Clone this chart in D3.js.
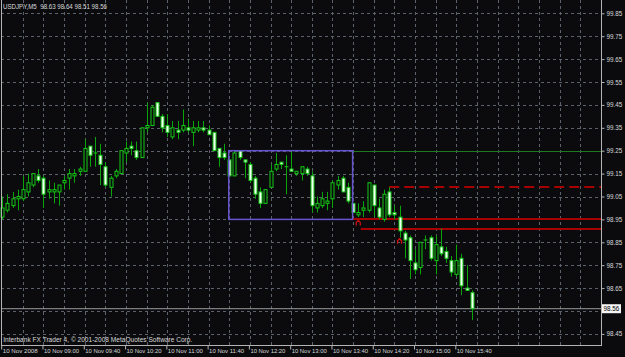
<!DOCTYPE html>
<html><head><meta charset="utf-8">
<script src="https://cdn.jsdelivr.net/npm/d3@7"></script>
<style>html,body{margin:0;padding:0;background:#0b0b0e;overflow:hidden}</style>
</head><body><svg id="c" width="625" height="357"></svg>
<script>
const symbolTitle = "USDJPY,M5  98.63 98.64 98.51 98.56";
const copyright = "Interbank FX Trader 4, \u00A9 2001-2008 MetaQuotes Software Corp.";

const open  = [98.96,98.99,99.01,99.04,99.04,99.07,99.10,99.14,99.13,99.07,99.07,99.07,99.11,99.13,99.14,99.16,99.16,99.27,99.24,99.23,99.18,99.09,99.14,99.15,99.24,99.27,99.25,99.22,99.35,99.36,99.46,99.40,99.36,99.31,99.34,99.34,99.35,99.33,99.34,99.35,99.34,99.33,99.26,99.24,99.21,99.14,99.25,99.21,99.19,99.13,99.07,99.02,99.09,99.17,99.20,99.18,99.17,99.15,99.15,99.17,99.14,99.00,99.01,99.02,99.04,99.10,99.13,99.09,99.02,98.97,98.99,98.99,99.10,99.00,98.95,99.07,98.98,98.96,98.89,98.87,98.76,98.74,98.86,98.87,98.77,98.83,98.81,98.77,98.71,98.78,98.65,98.63];
const high  = [99.05,99.06,99.07,99.08,99.14,99.15,99.15,99.17,99.14,99.12,99.11,99.10,99.14,99.17,99.17,99.18,99.30,99.27,99.31,99.28,99.20,99.14,99.17,99.25,99.29,99.29,99.29,99.35,99.46,99.45,99.46,99.41,99.41,99.38,99.38,99.43,99.39,99.38,99.38,99.38,99.36,99.33,99.26,99.28,99.21,99.25,99.25,99.21,99.20,99.14,99.09,99.08,99.19,99.24,99.20,99.23,99.25,99.16,99.18,99.18,99.16,99.05,99.07,99.07,99.12,99.14,99.14,99.11,99.02,99.02,99.03,99.11,99.10,99.04,99.08,99.09,99.01,99.01,98.90,98.88,98.82,98.85,98.88,98.88,98.88,98.91,98.83,98.79,98.84,98.80,98.75,98.64];
const low   = [98.95,98.98,99.00,98.99,99.03,99.05,99.09,99.11,99.00,99.04,99.02,99.01,99.08,99.08,99.11,99.14,99.16,99.18,99.18,99.10,99.09,99.05,99.13,99.15,99.20,99.23,99.21,99.22,99.33,99.36,99.40,99.33,99.31,99.30,99.30,99.33,99.33,99.27,99.33,99.33,99.32,99.25,99.18,99.21,99.14,99.14,99.21,99.13,99.11,99.04,99.00,99.02,99.09,99.16,99.17,99.06,99.16,99.14,99.12,99.14,98.98,98.98,99.00,98.99,99.00,99.08,99.07,99.02,98.98,98.96,98.96,98.98,98.96,98.95,98.94,98.96,98.95,98.87,98.78,98.69,98.71,98.71,98.82,98.77,98.71,98.79,98.76,98.70,98.70,98.62,98.64,98.51];
const close = [99.00,99.02,99.04,99.05,99.08,99.11,99.15,99.12,99.06,99.08,99.08,99.10,99.12,99.15,99.15,99.17,99.26,99.23,99.24,99.19,99.10,99.13,99.16,99.25,99.26,99.26,99.22,99.35,99.36,99.44,99.40,99.35,99.33,99.35,99.33,99.36,99.34,99.35,99.35,99.34,99.32,99.25,99.22,99.22,99.14,99.24,99.22,99.20,99.12,99.06,99.02,99.08,99.16,99.19,99.19,99.18,99.16,99.16,99.18,99.15,99.01,99.02,99.04,99.03,99.11,99.12,99.07,99.03,98.98,98.98,99.00,99.11,99.01,98.96,99.06,98.97,98.97,98.90,98.86,98.77,98.73,98.85,98.86,98.78,98.84,98.80,98.78,98.72,98.77,98.66,98.64,98.56];

const timeLabels = ["10 Nov 2008","10 Nov 09:00","10 Nov 09:40","10 Nov 10:20","10 Nov 11:00","10 Nov 11:40","10 Nov 12:20","10 Nov 13:00","10 Nov 13:40","10 Nov 14:20","10 Nov 15:00","10 Nov 15:40"];
const timeLabelBars = [0,8,16,24,32,40,48,56,64,72,80,88];
const priceGridValues = [99.85,99.75,99.65,99.55,99.45,99.35,99.25,99.15,99.05,98.95,98.85,98.75,98.65,98.55,98.45];
const priceTickLabels = ["99.85","99.75","99.65","99.55","99.45","99.35","99.25","99.15","99.05","98.95","98.85","98.75","98.65","98.45"];
const priceTickValues = [99.85,99.75,99.65,99.55,99.45,99.35,99.25,99.15,99.05,98.95,98.85,98.75,98.65,98.45];
const currentPrice = 98.56;
const boxBars = [44, 68];
const boxPrices = [99.25, 98.95];
const greenLevel = {fromBar: 68, price: 99.25};
const redDashedLevel = {fromBar: 75, price: 99.09};
const redLevels = [{fromBar: 68, price: 98.95}, {fromBar: 69.5, price: 98.91}];
const arrowBars = [69, 77];
const arrowPrices = [98.95, 98.87];

const svg = d3.select("#c");
const W = 625, H = 357;
const plotL = 1, plotR = 601, plotB = 345.5;
const x = d3.scaleLinear().domain([0, 91]).range([2.2, 471.8]);
const y = d3.scaleLinear().domain([98.45, 99.85]).range([333.9, 13.3]);
const bg = "#0b0b0e";
svg.append("rect").attr("width", W).attr("height", H).attr("fill", bg);

const gridColor = "#5b626c";
svg.append("g").selectAll("line").data(priceGridValues).join("line")
  .attr("x1", plotL).attr("x2", plotR)
  .attr("y1", d => Math.round(y(d)) + 0.5).attr("y2", d => Math.round(y(d)) + 0.5)
  .attr("stroke", gridColor).attr("stroke-width", 1).attr("stroke-dasharray", "3,3");
const vBars = d3.range(4, 116, 4);
svg.append("g").selectAll("line").data(vBars).join("line")
  .attr("x1", d => Math.round(x(d)) + 0.5).attr("x2", d => Math.round(x(d)) + 0.5)
  .attr("y1", 0).attr("y2", plotB)
  .attr("stroke", gridColor).attr("stroke-width", 1).attr("stroke-dasharray", "3,3");

// level lines
svg.append("line").attr("x1", x(greenLevel.fromBar)).attr("x2", plotR)
  .attr("y1", Math.round(y(greenLevel.price)) + 0.5).attr("y2", Math.round(y(greenLevel.price)) + 0.5)
  .attr("stroke", "#1f7a1f").attr("stroke-width", 1);
svg.append("line").attr("x1", x(redDashedLevel.fromBar)).attr("x2", plotR)
  .attr("y1", Math.round(y(redDashedLevel.price))).attr("y2", Math.round(y(redDashedLevel.price)))
  .attr("stroke", "#a80000").attr("stroke-width", 2).attr("stroke-dasharray", "10,5");
svg.append("g").selectAll("line").data(redLevels).join("line")
  .attr("x1", d => x(d.fromBar)).attr("x2", plotR)
  .attr("y1", d => Math.round(y(d.price))).attr("y2", d => Math.round(y(d.price)))
  .attr("stroke", "#a80000").attr("stroke-width", 2);

// current price line
svg.append("line").attr("x1", plotL).attr("x2", plotR)
  .attr("y1", y(currentPrice)).attr("y2", y(currentPrice))
  .attr("stroke", "#9a9a9a").attr("stroke-width", 1);

// candles
const bars = d3.range(open.length).map(i => ({i, o: open[i], h: high[i], l: low[i], c: close[i]}));
const cg = svg.append("g");
cg.selectAll("line").data(bars).join("line")
  .attr("x1", d => Math.round(x(d.i)) + 0.5).attr("x2", d => Math.round(x(d.i)) + 0.5)
  .attr("y1", d => y(d.h)).attr("y2", d => y(d.l))
  .attr("stroke", "#0aa50a").attr("stroke-width", 1);
cg.selectAll("rect").data(bars).join("rect")
  .attr("x", d => Math.round(x(d.i)) - 1)
  .attr("width", 3)
  .attr("y", d => y(Math.max(d.o, d.c)))
  .attr("height", d => Math.max(0.01, Math.abs(y(d.o) - y(d.c))))
  .attr("fill", d => d.c < d.o ? "#f2fff2" : bg)
  .attr("stroke", "#14c814").attr("stroke-width", 1);

// rectangle object
svg.append("rect")
  .attr("x", x(boxBars[0]) - 0.5).attr("y", y(boxPrices[0]))
  .attr("width", x(boxBars[1]) - x(boxBars[0])).attr("height", y(boxPrices[1]) - y(boxPrices[0]))
  .attr("fill", "none").attr("stroke", "#6554cc").attr("stroke-width", 1.5);

// trade arrows
svg.append("g").selectAll("path").data(arrowBars).join("path")
  .attr("d", (d, k) => {
    const cx = x(d), cy = y(arrowPrices[k]) + 2;
    return `M${cx-2},${cy+4} L${cx-2},${cy+1} L${cx},${cy-1} L${cx+2},${cy+1} L${cx+2},${cy+4}`;
  })
  .attr("fill", "none").attr("stroke", "#d01010").attr("stroke-width", 1.3);

// frame
const frameColor = "#b4b4b4";
svg.append("line").attr("x1", 1.5).attr("x2", 1.5).attr("y1", 0).attr("y2", plotB).attr("stroke", frameColor);
svg.append("line").attr("x1", plotR + 0.5).attr("x2", plotR + 0.5).attr("y1", 0).attr("y2", plotB).attr("stroke", frameColor);
svg.append("line").attr("x1", 1).attr("x2", plotR + 1).attr("y1", plotB).attr("y2", plotB).attr("stroke", frameColor);

const font = "'Liberation Sans', Arial, sans-serif";
const yAxis = d3.axisRight(y).tickValues(priceTickValues)
  .tickFormat((d, k) => priceTickLabels[k]).tickSize(3).tickPadding(2);
const ya = svg.append("g").attr("transform", `translate(${plotR + 0.5},0)`).call(yAxis);
ya.select(".domain").remove();
ya.selectAll(".tick line").attr("stroke", frameColor);
ya.selectAll(".tick text").attr("fill", "#d8d8d8").attr("font-family", font).attr("font-size", 6.3);

const cy0 = y(currentPrice);
svg.append("rect").attr("x", 602).attr("y", cy0 - 4.5).attr("width", 19).attr("height", 9).attr("fill", "#f4f4f4");
svg.append("text").attr("x", 603.5).attr("y", cy0 + 2.3).attr("fill", "#000")
  .attr("font-family", font).attr("font-size", 6.3).text(currentPrice.toFixed(2));

const xAxis = d3.axisBottom(x).tickValues(timeLabelBars)
  .tickFormat((d, k) => timeLabels[k]).tickSize(4).tickPadding(3);
const xa = svg.append("g").attr("transform", `translate(-1,${plotB})`).call(xAxis);
xa.select(".domain").remove();
xa.selectAll(".tick line").attr("stroke", frameColor);
xa.selectAll(".tick text").attr("fill", "#d8d8d8").attr("font-family", font).attr("font-size", 6)
  .attr("text-anchor", "start").attr("x", 1).attr("y", 3).attr("dy", "0.71em")
  .attr("textLength", 35).attr("lengthAdjust", "spacingAndGlyphs");

svg.append("text").attr("x", 3).attr("y", 8.5).attr("fill", "#d8d8d8")
  .attr("font-family", font).attr("font-size", 6.3).attr("xml:space", "preserve")
  .attr("textLength", 104).attr("lengthAdjust", "spacingAndGlyphs").text(symbolTitle);
svg.append("text").attr("x", 3.3).attr("y", 342.3).attr("fill", "#d8d8d8")
  .attr("font-family", font).attr("font-size", 6.3)
  .attr("textLength", 189).attr("lengthAdjust", "spacingAndGlyphs").text(copyright);
</script></body></html>
